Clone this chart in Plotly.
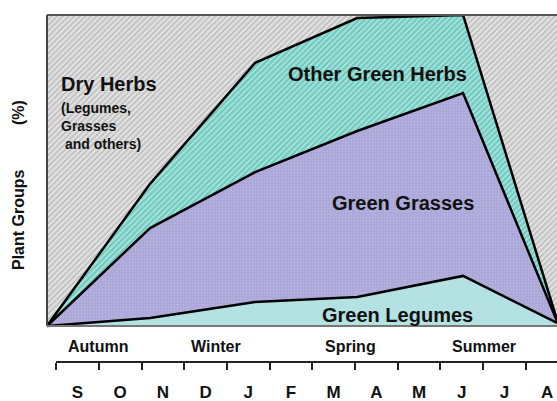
import plotly.graph_objects as go

# ---- data (x in month units: 0 = September ... 11 = August) ----
months = ["S", "O", "N", "D", "J", "F", "M", "A", "M", "J", "J", "A"]
seasons = ["Autumn", "Winter", "Spring", "Summer"]
season_x = [0.49, 3.24, 6.40, 9.52]          # month units

x_pts = [-0.714, 1.70, 4.16, 6.55, 9.03, 11.23]
green_legumes = [0, 2.6, 7.7, 9.3, 16.1, 1.0]
green_grasses = [0, 28.9, 41.8, 53.4, 58.8, 0.5]
other_green_herbs = [0, 14.2, 35.1, 36.3, 25.1, 0.5]
dry_herbs = [100 - a - b - c for a, b, c in zip(green_legumes, green_grasses, other_green_herbs)]

FONT = "Liberation Sans, Arial, sans-serif"
W, H = 557, 401
L, T = 47, 15
AXIS_Y = 362          # pixel row of the month axis line
B = H - AXIS_Y
PH = AXIS_Y - T
Y_BOTTOM = 326        # pixel row of the 0 % line
y_min = -100 * (AXIS_Y - Y_BOTTOM) / (Y_BOTTOM - T)

def py(p):  # pixel y -> paper y
    return (AXIS_Y - p) / PH
def px(p):  # pixel x -> paper x
    return (p - L) / (W - L)

fig = go.Figure()
line = dict(color="black", width=2.5)
fig.add_trace(go.Scatter(x=x_pts, y=green_legumes, stackgroup="s", mode="lines",
                         line=line, fillcolor="#b4e2e2", hoverinfo="skip"))
fig.add_trace(go.Scatter(x=x_pts, y=green_grasses, stackgroup="s", mode="lines",
                         line=line, fillcolor="#aaa7d8",
                         fillpattern=dict(shape=".", bgcolor="#aaa6d8", fgcolor="#c6c4e8",
                                          size=3, solidity=0.3), hoverinfo="skip"))
fig.add_trace(go.Scatter(x=x_pts, y=other_green_herbs, stackgroup="s", mode="lines",
                         line=line, fillcolor="#6fcbc0",
                         fillpattern=dict(shape="/", bgcolor="#aee3dd", fgcolor="#2db1a1",
                                          size=4, solidity=0.55), hoverinfo="skip"))
fig.add_trace(go.Scatter(x=x_pts, y=dry_herbs, stackgroup="s", mode="lines",
                         line=dict(color="black", width=0), fillcolor="#cccccc",
                         fillpattern=dict(shape="/", bgcolor="#e2e2e2", fgcolor="#969696",
                                          size=4, solidity=0.38), hoverinfo="skip"))

fig.update_layout(
    width=W, height=H,
    margin=dict(l=L, r=0, t=T, b=B, autoexpand=False),
    paper_bgcolor="white", plot_bgcolor="white",
    showlegend=False,
    xaxis=dict(range=[x_pts[0], x_pts[-1]], showline=False, showgrid=False, zeroline=False,
               tickmode="array", tickvals=list(range(len(months))), ticktext=months,
               ticks="", ticklabelstandoff=18,
               tickfont=dict(family=FONT, size=17, color="#111111", weight="bold"),
               minor=dict(tickvals=[i - 0.5 for i in range(len(months) + 1)],
                          ticks="outside", ticklen=7, tickwidth=2, tickcolor="#222222",
                          showgrid=False)),
    yaxis=dict(range=[y_min, 100], showline=False, showgrid=False, zeroline=False,
               showticklabels=False, ticks=""),
)

shapes = [
    # plot frame
    dict(type="line", xref="paper", yref="paper", x0=0, x1=0, y0=py(Y_BOTTOM), y1=1,
         line=dict(color="#444444", width=2)),
    dict(type="line", xref="paper", yref="paper", x0=0, x1=1, y0=1, y1=1,
         line=dict(color="#555555", width=2)),
    dict(type="line", xref="paper", yref="paper", x0=0, x1=1, y0=py(Y_BOTTOM), y1=py(Y_BOTTOM),
         line=dict(color="#777777", width=2)),
    # month axis line
    dict(type="line", xref="paper", yref="paper", x0=px(56), x1=1, y0=0, y1=0,
         line=dict(color="#222222", width=2)),
]
fig.update_layout(shapes=shapes)

def label(text, x, y, size, xanchor="center", **kw):
    return dict(x=x, y=y, xref="paper", yref="paper", xanchor=xanchor, yanchor="middle",
                text=text, showarrow=False, font=dict(family=FONT, size=size, color="#111111"), **kw)

ann = []
for s, sx in zip(seasons, season_x):
    ann.append(dict(x=sx, y=py(346), xref="x", yref="paper", xanchor="center", yanchor="middle",
                    text="<b>%s</b>" % s, showarrow=False,
                    font=dict(family=FONT, size=16, color="#111111")))
ann += [
    label("<b>Dry Herbs</b>", px(59), py(84), 20, xanchor="left"),
    label("<b>(Legumes,<br>Grasses<br>\u00a0and others)</b>", px(59), py(126), 14,
          xanchor="left", align="left"),
    label("<b>Other Green Herbs</b>", px(377.5), py(74), 20),
    label("<b>Green Grasses</b>", px(402.5), py(203), 20),
    label("<b>Green Legumes</b>", px(397), py(315), 20),
    label("<b>Plant Groups" + "\u00a0" * 10 + "(%)</b>", px(18), py(185), 16, textangle=-90),
]
fig.update_layout(annotations=ann)
fig.write_html("out.html", config={"displayModeBar": False},
               post_script="document.body.style.margin='0';")
